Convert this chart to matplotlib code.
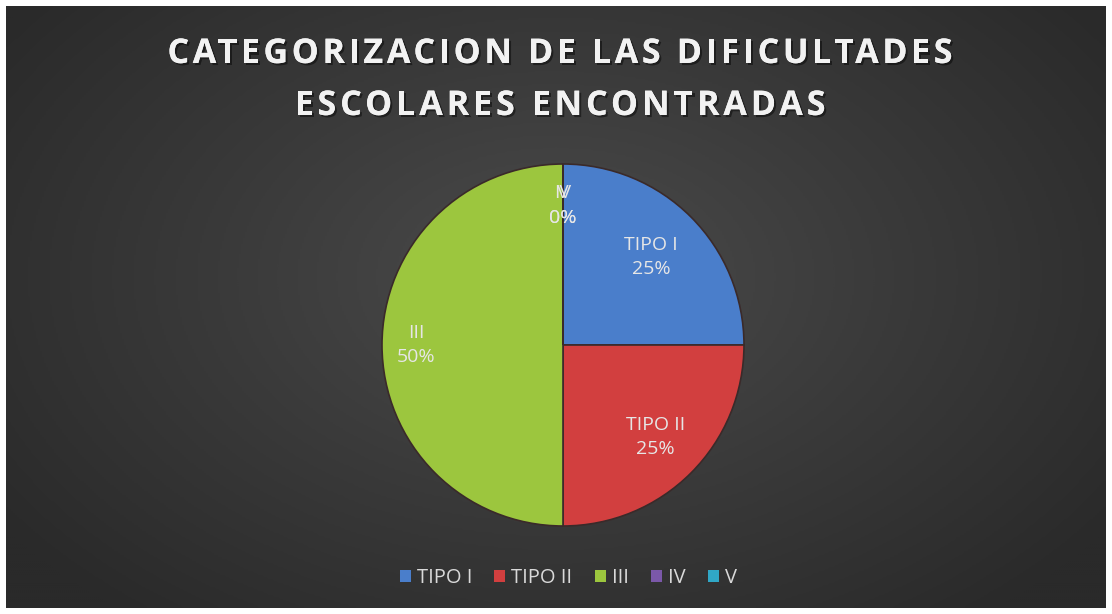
import numpy as np
import matplotlib
matplotlib.use('Agg')
import matplotlib.pyplot as plt
import matplotlib.patheffects as pe
from matplotlib.patches import Rectangle

categories = ['TIPO I', 'TIPO II', 'III', 'IV', 'V']
label_names = ['TIPO I', 'TIPO II', 'III', 'IV', 'V']
values = [1, 1, 2, 0, 0]
colors = ['#4a7ecb', '#d23f3f', '#9cc63e', '#7b58a9', '#30a7c6']
title_lines = ['CATEGORIZACION DE LAS DIFICULTADES', 'ESCOLARES ENCONTRADAS']

plt.rcParams['font.family'] = ['Open Sans', 'DejaVu Sans']

W, H = 1112, 614
fig = plt.figure(figsize=(W / 100, H / 100), dpi=100)
fig.patch.set_facecolor('white')

# dark background with lighter centre
bg = fig.add_axes([6 / W, 6 / H, 1100 / W, 602 / H])
yy, xx = np.mgrid[0:1:300j, 0:1:550j]
grad = np.sqrt(((xx - 0.5) * 1.3) ** 2 + ((yy - 0.45) * 1.1) ** 2)
bg.imshow(grad, cmap=matplotlib.colors.LinearSegmentedColormap.from_list(
    'g', ['#4b4b4b', '#3a3a3a', '#2a2a2a']), aspect='auto', extent=[0, 1, 0, 1],
    vmin=0, vmax=0.8)
bg.set_axis_off()

# pie
R = 181
ax = fig.add_axes([(563 - 200) / W, (H - 345 - 200) / H, 400 / W, 400 / H])
wedges, _ = ax.pie(values, colors=colors, startangle=90, counterclock=False,
                   radius=R / 200, wedgeprops=dict(edgecolor='#3a2a2a', linewidth=1.2))
ax.set_xlim(-1, 1)
ax.set_ylim(-1, 1)
ax.set_aspect('auto')

total = sum(values)
label_r = [0.69, 0.72, 0.81, 0.77, 0.77]
for w, name, v, r in zip(wedges, label_names, values, label_r):
    ang = np.deg2rad((w.theta1 + w.theta2) / 2)
    x = r * R / 200 * np.cos(ang)
    y = r * R / 200 * np.sin(ang)
    ax.text(x, y, '%s\n%d%%' % (name, round(100 * v / total)), ha='center', va='center',
            color='#e6e6e6', fontsize=14, linespacing=1.45)

# title with letter spacing, drawn char by char
renderer = fig.canvas.get_renderer()
tsize = 24.5


def text_w(s):
    t = fig.text(0, 0, s, fontsize=tsize, fontweight='bold')
    w = t.get_window_extent(renderer).width
    t.remove()
    return w


shadow = [pe.withSimplePatchShadow(offset=(1.5, -1.5), shadow_rgbFace='black', alpha=0.45), pe.Normal()]
for line, yc, target in zip(title_lines, [54, 106], [785, 531]):
    # start of each char = width of prefix incl. char minus width of char
    starts = [text_w('I' + line[:i + 1] + 'I') - text_w('I' + line[i] + 'I') for i in range(len(line))]
    full = text_w(line)
    tracking = max(0, (target - full) / (len(line) - 1))
    x0 = W / 2 + 4 - (full + tracking * (len(line) - 1)) / 2
    for i, ch in enumerate(line):
        if ch == ' ':
            continue
        fig.text((x0 + starts[i] + i * tracking) / W, 1 - yc / H, ch, fontsize=tsize,
                 fontweight='bold', color='#f2f2f2', ha='left', va='center',
                 path_effects=shadow)

# legend
handles = [Rectangle((0, 0), 1, 1, facecolor=c, edgecolor='none') for c in colors]
leg = fig.legend(handles, categories, loc='center', bbox_to_anchor=(0.511, 1 - 578 / H),
                 ncol=5, frameon=False, fontsize=14.5, handlelength=0.55, handleheight=0.55,
                 handletextpad=0.3, columnspacing=1.1)
for t in leg.get_texts():
    t.set_color('#d9d9d9')

fig.savefig('out.png', dpi=100, facecolor=fig.get_facecolor())
